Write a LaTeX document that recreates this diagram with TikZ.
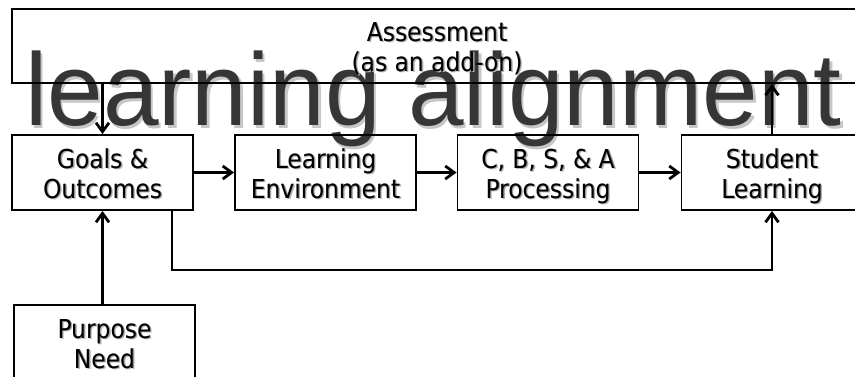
\documentclass[tikz,border=0pt]{standalone}
\usepackage{fontspec}
\setmainfont{DejaVu Sans Condensed}
\newfontfamily\bigfont{Liberation Sans}
\usetikzlibrary{arrows.meta}
\definecolor{bigtext}{HTML}{363636}
\newcommand\shd[1]{\leavevmode\rlap{\kern1.6pt\raisebox{-1.6pt}{\color{black!28}#1}}\rlap{\kern0.8pt\raisebox{-0.8pt}{\color{black!45}#1}}#1}
\tikzset{
  box/.style={draw=black, line width=1.8pt, minimum width=181pt, minimum height=75pt,
    align=center, inner sep=0pt, font=\fontsize{26}{30}\selectfont,
    text height=57pt, text depth=6pt},
  conn/.style={line width=2.8pt, -{Straight Barb[length=9pt,width=13pt,line width=2.8pt]}},
  bigtxt/.style={anchor=base, inner sep=0pt, font=\bigfont\fontsize{103}{103}\selectfont},
}
\begin{document}
\begin{tikzpicture}[x=1pt,y=-1pt]
\clip (0,0) rectangle (855,376);
\fill[white] (0,0) rectangle (855,376);
% big background text with shadow
\node[bigtxt, text=black!22] (titleshadow) at (436,128.5) {\scalebox{0.97}[1]{learning alignment}};
\node[bigtxt, text=bigtext] (title) at (433.5,125.5) {\scalebox{0.97}[1]{learning alignment}};
% boxes
\node[box, minimum width=850pt, minimum height=74pt, text height=56pt] (assess) at (437,46) {\shd{Assessment}\\\shd{(as an add-on)}};
\node[box] (goals) at (102.5,172.5) {\shd{Goals \&}\\\shd{Outcomes}};
\node[box] (env) at (325.5,172.5) {\shd{Learning}\\\shd{Environment}};
\node[box] (proc) at (548,172.5) {\shd{C, B, S, \& A}\\\shd{Processing}};
\node[box] (stud) at (772,172.5) {\shd{Student}\\\shd{Learning}};
\node[box] (purp) at (104.5,342.5) {\shd{Purpose}\\\shd{Need}};
% connectors
\draw[conn] (assess.south -| goals.north) -- (goals.north);
\draw[conn] (goals) -- (env);
\draw[conn] (env) -- (proc);
\draw[conn] (proc) -- (stud);
\draw[conn] (stud.north) -- (assess.south -| stud.north);
\draw[conn] (purp.north -| goals.south) -- (goals.south);
\coordinate (loopL) at (172,270);
\draw[conn] (goals.south -| loopL) -- (loopL) -- (loopL -| stud.south) -- (stud.south);
\end{tikzpicture}
\end{document}
